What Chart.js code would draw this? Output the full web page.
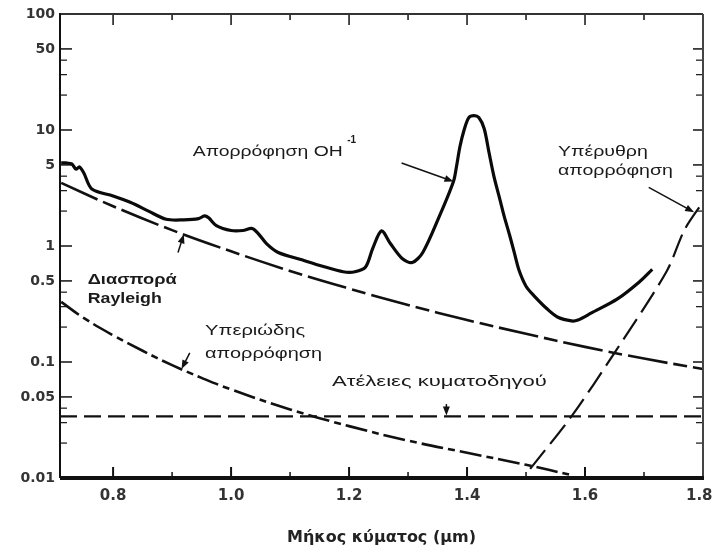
<!DOCTYPE html>
<html><head><meta charset="utf-8">
<script src="https://cdn.jsdelivr.net/npm/chart.js@4/dist/chart.umd.min.js"></script>
<style>html,body{margin:0;padding:0;background:#fff}#wrap{width:713px;height:552px}</style>
</head><body><div id="wrap"><canvas id="c" width="713" height="552" style="width:713px;height:552px"></canvas></div>
<script>
// ---- data ----
const totalX = [0.712,0.72,0.73,0.737,0.743,0.75,0.764,0.80,0.83,0.86,0.89,0.92,0.945,0.955,0.962,0.975,1.0,1.02,1.035,1.045,1.06,1.08,1.12,1.155,1.19,1.21,1.228,1.24,1.255,1.27,1.29,1.307,1.325,1.353,1.377,1.382,1.388,1.395,1.403,1.412,1.42,1.429,1.437,1.446,1.455,1.463,1.472,1.48,1.488,1.5,1.514,1.536,1.554,1.577,1.588,1.611,1.655,1.692,1.714];
const totalY = [5.2,5.2,5.1,4.6,4.8,4.3,3.1,2.7,2.37,2.0,1.7,1.68,1.72,1.82,1.75,1.5,1.36,1.36,1.42,1.3,1.05,0.88,0.76,0.67,0.6,0.6,0.66,0.95,1.35,1.05,0.78,0.72,0.88,1.8,3.6,4.8,7.2,10.0,12.8,13.3,12.8,10.3,6.5,3.9,2.6,1.8,1.25,0.88,0.62,0.45,0.37,0.286,0.243,0.226,0.23,0.265,0.35,0.49,0.63];
const rayleighX = [0.712,0.8,0.9,1.0,1.1,1.2,1.3,1.4,1.5,1.6,1.7,1.8];
const rayleighY = [3.5,2.2,1.37,0.9,0.61,0.43,0.31,0.23,0.175,0.135,0.107,0.087];
const uvX = [0.712,0.75,0.8,0.85,0.9,0.95,1.0,1.1,1.2,1.3,1.4,1.5,1.58];
const uvY = [0.33,0.24,0.17,0.125,0.094,0.073,0.058,0.039,0.028,0.021,0.0165,0.013,0.0105];
const irX = [1.507,1.577,1.65,1.738,1.769,1.8];
const irY = [0.012,0.034,0.12,0.6,1.39,2.4];
const waveguideX = [0.71,1.8];
const waveguideY = [0.034,0.034];
const xTicks = [0.8,1.0,1.2,1.4,1.6,1.8];
const xMinorTicks = [0.9,1.1,1.3,1.5,1.7];
const yTicks = [100,50,10,5,1,0.5,0.1,0.05,0.01];
const yMinorTicks = [40,30,20,4,3,2,0.4,0.3,0.2,0.04,0.03,0.02];

const pts = (xs, ys) => xs.map((x, i) => ({x, y: ys[i]}));

// annotations (data coordinates)
const notes = [
  {text:'Απορρόφηση OH', x:0.935, y:6.5, w:150, bold:false},
  {text:'-1', x:1.197, y:8.2, size:10, bold:true},
  {text:'Υπέρυθρη', x:1.554, y:6.4, w:90},
  {text:'απορρόφηση', x:1.554, y:4.4, w:115},
  {text:'Διασπορά', x:0.757, y:0.506, w:89, bold:true},
  {text:'Rayleigh', x:0.757, y:0.347, w:74, bold:true},
  {text:'Υπεριώδης', x:0.956, y:0.185, w:100},
  {text:'απορρόφηση', x:0.956, y:0.117, w:117},
  {text:'Ατέλειες κυματοδηγού', x:1.171, y:0.067, w:215}
];
const arrows = [
  {from:[1.289,5.2], to:[1.377,3.6]},
  {from:[1.708,3.2], to:[1.785,1.95]},
  {from:[0.91,0.88], to:[0.92,1.26]},
  {from:[0.93,0.12], to:[0.916,0.087]},
  {from:[1.365,0.0434], to:[1.365,0.0345]}
];

const frame = {
  id:'frame',
  afterDatasetsDraw(chart){
    const {ctx, chartArea:a, scales:{x, y}} = chart;
    ctx.save();
    ctx.strokeStyle = '#111';
    const tick = (x1,y1,x2,y2,w)=>{ctx.lineWidth=w;ctx.beginPath();ctx.moveTo(x1,y1);ctx.lineTo(x2,y2);ctx.stroke();};
    xTicks.forEach(v=>{const p=x.getPixelForValue(v); tick(p,a.bottom,p,a.bottom-11,2); tick(p,a.top,p,a.top+11,1.5);});
    xMinorTicks.forEach(v=>{const p=x.getPixelForValue(v); tick(p,a.bottom,p,a.bottom-6,1.5); tick(p,a.top,p,a.top+6,1.5);});
    yTicks.forEach(v=>{const p=y.getPixelForValue(v); tick(a.left,p,a.left+12,p,1.5); tick(a.right,p,a.right-10,p,1.5);});
    yMinorTicks.forEach(v=>{const p=y.getPixelForValue(v); tick(a.left,p,a.left+7,p,1.2); tick(a.right,p,a.right-7,p,1.2);});
    ctx.strokeStyle='#333'; tick(a.left,a.top,a.right,a.top,2);
    ctx.strokeStyle='#444'; tick(a.right,a.top,a.right,a.bottom,2);
    ctx.strokeStyle='#111'; tick(a.left,a.top-1,a.left,a.bottom,2);
    tick(a.left,a.bottom,a.right+1,a.bottom,4);
    ctx.fillStyle='#111'; ctx.strokeStyle='#111';
    arrows.forEach(ar=>{
      const x1=x.getPixelForValue(ar.from[0]), y1=y.getPixelForValue(ar.from[1]);
      const x2=x.getPixelForValue(ar.to[0]), y2=y.getPixelForValue(ar.to[1]);
      const ang=Math.atan2(y2-y1,x2-x1);
      tick(x1,y1,x2-6*Math.cos(ang),y2-6*Math.sin(ang),1.5);
      ctx.beginPath();
      ctx.moveTo(x2,y2);
      ctx.lineTo(x2-9*Math.cos(ang)+3.5*Math.sin(ang), y2-9*Math.sin(ang)-3.5*Math.cos(ang));
      ctx.lineTo(x2-9*Math.cos(ang)-3.5*Math.sin(ang), y2-9*Math.sin(ang)+3.5*Math.cos(ang));
      ctx.closePath(); ctx.fill();
    });
    ctx.fillStyle='#1a1a1a'; ctx.textBaseline='middle'; ctx.textAlign='left';
    notes.forEach(n=>{
      ctx.font=(n.bold?'bold ':'')+(n.size||14)+'px "Liberation Sans", Arial, sans-serif';
      const px=x.getPixelForValue(n.x), py=y.getPixelForValue(n.y);
      const mw=ctx.measureText(n.text).width;
      const sx=n.w? n.w/mw : 1;
      ctx.save(); ctx.translate(px,py); ctx.scale(sx,1); ctx.fillText(n.text,0,0); ctx.restore();
    });
    ctx.restore();
  }
};

new Chart(document.getElementById('c'), {
  type:'line',
  data:{datasets:[
    {data:pts(totalX,totalY), borderColor:'#0a0a0a', borderWidth:3.2, pointRadius:0, tension:0.3},
    {data:pts(rayleighX,rayleighY), borderColor:'#111', borderWidth:2.6, pointRadius:0, tension:0.4, borderDash:[40,6,14,6]},
    {data:pts(uvX,uvY), borderColor:'#111', borderWidth:2.6, pointRadius:0, tension:0.4, borderDash:[22,5,7,5]},
    {data:pts(irX,irY), borderColor:'#111', borderWidth:2.2, pointRadius:0, tension:0.3, borderDash:[24,8]},
    {data:pts(waveguideX,waveguideY), borderColor:'#111', borderWidth:2.2, pointRadius:0, borderDash:[17,7]}
  ]},
  options:{
    responsive:false, animation:false, devicePixelRatio:1,
    layout:{padding:{top:14,right:10,left:0,bottom:0}},
    plugins:{legend:{display:false}, tooltip:{enabled:false}},
    scales:{
      x:{type:'linear', min:0.71, max:1.8,
        afterBuildTicks:s=>{s.ticks=xTicks.map(v=>({value:v}));},
        afterFit:s=>{s.height=74; s.paddingLeft=0; s.paddingRight=0;},
        grid:{display:false, drawTicks:false}, border:{display:false},
        ticks:{callback:v=>Number(v).toFixed(1)+(v>=1.79?'\u2002':''), font:{family:'DejaVu Sans',size:15,weight:'bold'}, color:'#333', padding:9, maxRotation:0, autoSkip:false},
        title:{display:true, text:'Μήκος κύματος (μm)', font:{family:'DejaVu Sans',size:16,weight:'bold'}, color:'#222', padding:{top:0,bottom:5}}
      },
      y:{type:'logarithmic', min:0.01, max:100,
        afterBuildTicks:s=>{s.ticks=yTicks.map(v=>({value:v}));},
        afterFit:s=>{s.width=60; s.paddingTop=0; s.paddingBottom=0;},
        grid:{display:false, drawTicks:false}, border:{display:false},
        ticks:{callback:v=>String(v), font:{family:'DejaVu Sans',size:14,weight:'bold'}, color:'#333', padding:5, autoSkip:false}
      }
    }
  },
  plugins:[frame]
});
</script></body></html>
